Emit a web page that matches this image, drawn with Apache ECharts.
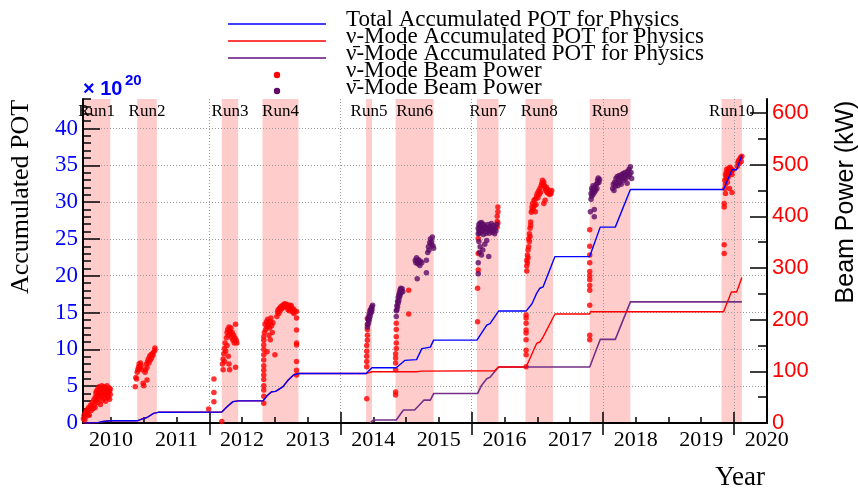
<!DOCTYPE html>
<html>
<head>
<meta charset="utf-8">
<title>Accumulated POT</title>
<script src="https://cdn.jsdelivr.net/npm/echarts@6/dist/echarts.min.js"></script>
<style>
html,body{margin:0;padding:0;background:#fff;}
#myChart{width:858px;height:491px;}
</style>
</head>
<body>
<div id="myChart"></div>
<script>
var serif = '"Liberation Serif","Times New Roman",serif';
var sans = '"Liberation Sans",Arial,sans-serif';

// run periods (year fraction)
var runNames = ['Run1','Run2','Run3','Run4','Run5','Run6','Run7','Run8','Run9','Run10'];
var runStart = [2010.074, 2010.90, 2012.19, 2012.81, 2014.39, 2014.84, 2016.08, 2016.82, 2017.80, 2019.81];
var runEnd   = [2010.49, 2011.20, 2012.44, 2013.36, 2014.48, 2015.42, 2016.41, 2017.24, 2018.42, 2020.12];

// tick labels
var yearTicks = [2010, 2011, 2012, 2013, 2014, 2015, 2016, 2017, 2018, 2019, 2020];
var potTicks = [0, 5, 10, 15, 20, 25, 30, 35, 40];
var powerTicks = [0, 100, 200, 300, 400, 500, 600];
var evenYears = [2012, 2014, 2016, 2018, 2020];

var legendNames = [
  'Total Accumulated POT for Physics',
  'ν-Mode Accumulated POT for Physics',
  'ν\u0304-Mode Accumulated POT for Physics',
  'ν-Mode Beam Power',
  'ν\u0304-Mode Beam Power'
];

// accumulated POT (x10^20)
var totalPot = [[2010.10,0],[2010.30,0.05],[2010.38,0.2],[2010.49,0.3],[2010.90,0.3],[2010.98,0.55],[2011.05,0.75],[2011.15,1.3],[2011.22,1.45],
  [2012.19,1.5],[2012.27,2.2],[2012.36,2.9],[2012.44,3.0],[2012.82,3.0],[2012.88,3.7],[2012.95,4.25],[2013.01,4.3],[2013.12,4.9],[2013.20,5.8],[2013.28,6.5],[2013.36,6.72],
  [2014.39,6.72],[2014.48,7.5],[2014.85,7.5],[2014.98,8.5],[2015.16,8.6],[2015.24,10.1],[2015.37,10.3],[2015.42,11.25],
  [2016.08,11.25],[2016.15,12.2],[2016.23,13.3],[2016.28,13.5],[2016.41,15.2],[2016.83,15.2],[2016.92,16.2],[2016.99,17.6],[2017.04,18.3],[2017.09,18.5],[2017.27,22.6],
  [2017.80,22.6],[2017.96,26.6],[2018.19,26.6],[2018.42,31.7],[2019.84,31.7],[2019.97,34.4],[2020.04,34.4],[2020.12,36.4]];
var nuPot = [[2010.10,0],[2010.30,0.05],[2010.38,0.2],[2010.49,0.3],[2010.90,0.3],[2010.98,0.55],[2011.05,0.75],[2011.15,1.3],[2011.22,1.45],
  [2012.19,1.5],[2012.27,2.2],[2012.36,2.9],[2012.44,3.0],[2012.82,3.0],[2012.88,3.7],[2012.95,4.25],[2013.01,4.3],[2013.12,4.9],[2013.20,5.8],[2013.28,6.5],[2013.36,6.72],
  [2014.39,6.72],[2014.48,6.96],[2015.16,6.96],[2015.24,7.05],[2016.35,7.1],[2016.41,7.6],[2016.83,7.6],[2016.99,10.8],[2017.04,11.0],[2017.09,11.7],[2017.27,14.8],
  [2017.80,14.8],[2017.81,15.1],[2019.84,15.1],[2019.96,17.8],[2020.04,17.8],[2020.12,19.75]];
var nubarPot = [[2014.45,0],[2014.50,0.4],[2014.85,0.4],[2014.96,1.76],[2015.13,1.76],[2015.27,3.1],[2015.37,3.1],[2015.42,4.0],
  [2016.09,4.0],[2016.15,5.1],[2016.23,6.0],[2016.28,6.2],[2016.41,7.6],[2017.80,7.6],[2017.96,11.35],[2018.19,11.35],[2018.42,16.45],[2020.12,16.45]];

// beam power (kW)
var nuBeamPower = [
  // Run1
  [2010.08,8],[2010.09,15],[2010.10,5],[2010.11,20],[2010.12,12],[2010.13,25],[2010.14,18],[2010.15,22],[2010.16,30],[2010.17,15],[2010.18,28],[2010.19,35],[2010.20,24],[2010.21,33],
  [2010.22,40],[2010.23,28],[2010.24,45],[2010.25,36],[2010.26,50],[2010.26,30],[2010.27,58],[2010.28,44],[2010.28,62],[2010.29,52],[2010.30,66],[2010.30,40],[2010.31,55],[2010.32,70],
  [2010.32,48],[2010.33,60],[2010.34,36],[2010.34,65],[2010.35,52],[2010.36,72],[2010.36,58],[2010.37,44],[2010.38,66],[2010.38,54],[2010.39,70],[2010.40,48],[2010.40,62],[2010.41,56],
  [2010.42,68],[2010.42,42],[2010.43,60],[2010.44,52],[2010.44,72],[2010.45,64],[2010.46,50],[2010.46,58],[2010.47,68],[2010.48,46],[2010.48,62],[2010.49,55],[2010.49,66],
  // Run2
  [2010.87,70],[2010.88,88],[2010.89,85],[2010.90,98],[2010.91,103],[2010.92,108],[2010.93,114],[2010.94,106],[2010.95,116],[2010.96,111],[2010.97,103],[2010.99,77],[2011.00,72],
  [2011.02,98],[2011.03,103],[2011.04,114],[2011.05,108],[2011.05,83],[2011.06,119],[2011.07,124],[2011.08,116],[2011.09,129],[2011.10,122],[2011.11,132],[2011.12,126],[2011.13,134],
  [2011.14,131],[2011.15,137],[2011.17,141],[2011.17,145],
  // Run3
  [2011.99,27],[2012.07,85],[2012.07,59],[2012.07,41],[2012.19,3],
  [2012.20,114],[2012.21,124],[2012.21,103],[2012.22,134],[2012.23,144],[2012.23,119],[2012.24,155],[2012.25,139],[2012.26,165],[2012.27,175],[2012.27,150],[2012.28,181],[2012.29,170],
  [2012.29,129],[2012.30,186],[2012.30,114],[2012.31,178],[2012.31,103],[2012.32,173],[2012.33,184],[2012.34,165],[2012.35,175],[2012.36,160],[2012.37,170],[2012.38,155],[2012.39,165],
  [2012.40,191],[2012.41,160],[2012.42,155],[2012.40,108],
  // Run4
  [2012.83,38],[2012.83,52],[2012.83,64],[2012.83,72],[2012.83,84],[2012.83,93],[2012.83,102],[2012.83,111],[2012.83,122],[2012.83,132],[2012.83,142],[2012.83,151],[2012.83,160],[2012.83,167],
  [2012.84,175],[2012.85,191],[2012.86,181],[2012.87,196],[2012.88,186],[2012.89,201],[2012.90,191],[2012.91,170],[2012.92,184],[2012.93,196],[2012.94,203],[2012.95,188],[2012.96,175],
  [2012.97,194],[2012.88,138],[2012.93,161],[2013.00,132],
  [2013.03,206],[2013.04,215],[2013.05,219],[2013.06,212],[2013.07,222],[2013.08,217],[2013.09,225],[2013.10,221],[2013.11,227],[2013.12,223],[2013.13,229],[2013.14,225],[2013.15,231],
  [2013.16,227],[2013.17,230],[2013.18,224],[2013.19,229],[2013.20,219],[2013.21,225],[2013.22,217],[2013.23,228],[2013.24,222],[2013.25,227],[2013.26,219],[2013.27,215],[2013.28,221],
  [2013.29,212],[2013.30,217],
  [2013.33,216],[2013.33,203],[2013.33,180],[2013.33,155],[2013.33,151],[2013.33,119],[2013.33,102],[2013.33,93],
  // Run5
  [2014.40,47],[2014.40,109],[2014.40,119],[2014.40,129],[2014.40,139],[2014.40,150],[2014.41,160],[2014.41,170],[2014.41,181],[2014.41,191],[2014.41,202],
  // Run6
  [2014.84,54],[2014.84,60],[2014.84,103],[2014.84,116],[2014.84,126],[2014.84,134],[2014.85,144],[2014.85,155],[2014.85,167],[2014.85,181],[2014.85,193],[2015.04,257],[2015.04,211],
  // Run7
  [2016.09,196],[2016.09,261],[2016.10,296],[2016.10,328],[2016.10,357],[2016.39,380],[2016.39,390],[2016.39,400],[2016.40,409],[2016.40,418],[2016.40,387],
  // Run8
  [2016.83,109],[2016.83,132],[2016.83,141],[2016.83,161],[2016.83,174],[2016.83,180],[2016.83,193],[2016.83,203],[2016.83,209],
  [2016.84,304],[2016.84,315],[2016.85,325],[2016.85,310],[2016.86,335],[2016.86,320],[2016.87,341],[2016.84,294],[2016.87,356],[2016.88,366],[2016.88,351],[2016.89,377],[2016.89,361],
  [2016.90,382],[2016.90,389],[2016.91,408],[2016.92,418],[2016.92,411],[2016.93,425],[2016.94,415],[2016.95,431],[2016.96,421],[2016.97,433],[2016.97,409],[2016.98,423],[2016.99,439],
  [2017.00,444],[2017.01,436],[2017.02,449],[2017.03,442],[2017.04,454],[2017.05,446],[2017.06,459],[2017.07,464],[2017.08,470],[2017.09,462],[2017.10,466],[2017.11,459],[2017.12,454],
  [2017.13,450],[2017.14,456],[2017.15,446],[2017.16,452],[2017.17,444],[2017.18,449],[2017.19,442],[2017.20,447],[2017.21,444],[2017.22,450],[2017.10,425],[2017.12,431],
  // Run9
  [2017.80,161],[2017.80,170],[2017.80,228],[2017.80,257],[2017.80,266],[2017.80,277],[2017.80,285],[2017.80,293],[2017.80,310],[2017.80,325],[2017.80,342],[2017.80,374],
  // Run10
  [2019.85,328],[2019.85,345],[2019.85,418],[2019.85,425],[2019.86,454],[2019.86,470],[2019.87,462],[2019.87,480],[2019.88,473],[2019.88,485],[2019.89,477],[2019.89,491],[2019.90,466],
  [2019.90,483],[2019.91,489],[2019.91,475],[2019.92,493],[2019.92,481],[2019.93,487],[2019.94,495],[2019.95,485],[2019.96,491],[2019.97,446],[2019.97,481],[2019.98,489],[2020.05,497],
  [2020.06,504],[2020.07,508],[2020.08,502],[2020.09,511],[2020.10,514],[2020.11,506],[2020.12,516],[2019.93,454],[2019.87,444]
];
var nubarBeamPower = [
  // Run5
  [2014.41,186],[2014.42,201],[2014.42,191],[2014.43,206],[2014.43,196],[2014.44,212],[2014.44,201],[2014.45,217],[2014.45,206],[2014.46,219],[2014.46,212],[2014.47,222],[2014.47,215],
  [2014.48,225],[2014.48,219],[2014.49,228],
  // Run6
  [2014.85,206],[2014.85,217],[2014.86,227],[2014.86,219],[2014.87,235],[2014.87,225],[2014.88,243],[2014.88,232],[2014.89,248],[2014.89,237],[2014.90,253],[2014.90,244],[2014.91,258],
  [2014.91,248],[2014.92,261],[2014.92,252],[2014.93,256],[2014.94,260],[2014.95,254],
  [2015.14,315],[2015.15,310],[2015.16,320],[2015.17,314],[2015.18,308],[2015.19,316],[2015.20,310],[2015.21,305],[2015.22,313],[2015.17,279],[2015.24,310],
  [2015.31,291],[2015.31,315],[2015.33,330],[2015.34,341],[2015.35,335],[2015.36,349],[2015.37,356],[2015.38,346],[2015.39,351],[2015.40,360],[2015.41,343],[2015.42,338],
  // Run7
  [2016.10,377],[2016.10,366],[2016.11,384],[2016.11,372],[2016.12,380],[2016.12,367],[2016.13,387],[2016.13,374],[2016.14,382],[2016.14,369],[2016.15,378],[2016.15,388],[2016.16,372],
  [2016.17,382],[2016.18,376],[2016.18,365],[2016.19,384],[2016.20,374],[2016.21,380],[2016.22,367],[2016.23,378],[2016.24,372],[2016.25,384],[2016.26,376],[2016.27,367],[2016.28,380],
  [2016.29,372],[2016.30,386],[2016.31,376],[2016.32,369],[2016.33,382],[2016.34,374],[2016.35,366],[2016.36,378],[2016.37,372],[2016.38,384],
  [2016.11,351],[2016.12,330],[2016.13,341],[2016.15,325],[2016.17,335],[2016.20,346],[2016.23,353],[2016.26,322],[2016.10,310],[2016.10,289],
  // Run9
  [2017.81,409],[2017.82,433],[2017.82,444],[2017.83,454],[2017.83,439],[2017.84,449],[2017.85,442],[2017.85,459],[2017.86,452],[2017.87,446],[2017.87,413],[2017.87,399],[2017.88,456],
  [2017.89,450],[2017.90,462],[2017.91,454],[2017.92,464],[2017.92,470],[2017.93,474],[2017.94,466],[2017.95,471],
  [2018.15,454],[2018.16,462],[2018.17,450],[2018.18,466],[2018.19,458],[2018.20,473],[2018.21,464],[2018.22,477],[2018.23,459],[2018.24,471],[2018.25,479],[2018.26,466],[2018.27,475],
  [2018.28,462],[2018.29,481],[2018.30,473],[2018.31,483],[2018.32,470],[2018.33,477],[2018.34,485],[2018.35,473],[2018.36,481],[2018.37,464],[2018.38,487],[2018.39,477],[2018.40,491],
  [2018.41,481],[2018.42,496],[2018.43,485],[2018.44,473]
];

var halfYearTicks = [];
for (var t = 2010.5; t <= 2020.5; t += 0.5) { halfYearTicks.push(t); }
var potMinor = [];
for (var i = 0; i <= 44; i++) { potMinor.push(i); }
var powerMinor = [];
for (var k = 0; k <= 600; k += 50) { powerMinor.push(k); }

var runAreas = runNames.map(function (n, i) {
  return [{ name: n, xAxis: runStart[i] }, { xAxis: runEnd[i] }];
});

var tickStyle = { color: '#000', width: 1.5 };
var gridLine = { show: true, lineStyle: { color: '#9a9a9a', width: 1, type: [1, 2] } };

var myChart = echarts.init(document.getElementById('myChart'));
var option = {
  animation: false,
  backgroundColor: '#fff',
  grid: { left: 83, right: 91, top: 99, bottom: 68 },
  xAxis: [
    {
      type: 'value', min: 2010.074, max: 2020.503, position: 'bottom', z: 5,
      axisLine: { show: true, lineStyle: { color: '#000', width: 2 } },
      axisTick: { show: true, inside: true, length: 6, lineStyle: tickStyle, customValues: halfYearTicks },
      axisLabel: {
        customValues: yearTicks.map(function (y) { return y + 0.5; }),
        formatter: function (v) { return String(Math.floor(v)); },
        color: '#000', fontFamily: serif, fontSize: 22, margin: 6
      },
      splitLine: { show: false }
    },
    {
      type: 'value', min: 2010.074, max: 2020.503, position: 'bottom', z: 5,
      axisLine: { show: false },
      axisTick: { show: true, inside: true, length: 11, lineStyle: tickStyle, customValues: evenYears },
      axisLabel: { show: false },
      splitLine: gridLine
    },
    {
      type: 'value', min: 2010.074, max: 2020.503, position: 'bottom', z: 5,
      axisLine: { show: false },
      axisTick: { show: true, inside: false, length: 12, lineStyle: tickStyle, customValues: evenYears },
      axisLabel: { show: false },
      splitLine: { show: false }
    },
    {
      type: 'value', min: 2010.074, max: 2020.503, position: 'top', z: 5,
      axisLine: { show: true, lineStyle: { color: '#000', width: 2 } },
      axisTick: { show: false }, axisLabel: { show: false }, splitLine: { show: false }
    }
  ],
  yAxis: [
    {
      type: 'value', min: 0, max: 44, position: 'left', z: 5,
      axisLine: { show: true, lineStyle: { color: '#000', width: 2 } },
      axisTick: { show: true, inside: true, length: 8, lineStyle: tickStyle, customValues: potMinor },
      axisLabel: { customValues: potTicks, color: '#0000ff', fontFamily: serif, fontSize: 23, margin: 5 },
      splitLine: { show: false }
    },
    {
      type: 'value', min: 0, max: 44, position: 'left', z: 5,
      axisLine: { show: false },
      axisTick: { show: true, inside: true, length: 17, lineStyle: tickStyle, customValues: potTicks },
      axisLabel: { show: false },
      splitLine: gridLine
    },
    {
      type: 'value', min: 0, max: 627, position: 'right', z: 5,
      axisLine: { show: true, lineStyle: { color: '#000', width: 2 } },
      axisTick: { show: true, inside: true, length: 9, lineStyle: tickStyle, customValues: powerMinor },
      axisLabel: { customValues: powerTicks, color: '#ff0000', fontFamily: sans, fontSize: 22, margin: 5 },
      splitLine: { show: false }
    },
    {
      type: 'value', min: 0, max: 627, position: 'right', z: 5,
      axisLine: { show: false },
      axisTick: { show: true, inside: true, length: 17, lineStyle: tickStyle, customValues: powerTicks },
      axisLabel: { show: false },
      splitLine: { show: false }
    }
  ],
  series: [
    {
      name: 'runs', type: 'line', data: [], z: 1, silent: true,
      markArea: {
        silent: true,
        itemStyle: { color: '#ffcccc' },
        label: { show: true, position: 'insideTop', distance: 4, color: '#000', fontFamily: serif, fontSize: 17 },
        data: runAreas
      }
    },
    {
      name: legendNames[3], type: 'scatter', yAxisIndex: 2, z: 6,
      symbolSize: 5.5, itemStyle: { color: '#ff0000' }, data: nuBeamPower
    },
    {
      name: legendNames[4], type: 'scatter', yAxisIndex: 2, z: 6,
      symbolSize: 5.5, itemStyle: { color: '#5d0b66' }, data: nubarBeamPower
    },
    {
      name: legendNames[2], type: 'line', yAxisIndex: 0, z: 7, symbol: 'none',
      lineStyle: { color: '#752f86', width: 1.6 }, data: nubarPot
    },
    {
      name: legendNames[1], type: 'line', yAxisIndex: 0, z: 7, symbol: 'none',
      lineStyle: { color: '#ff0000', width: 1.4 }, data: nuPot
    },
    {
      name: legendNames[0], type: 'line', yAxisIndex: 0, z: 8, symbol: 'none',
      lineStyle: { color: '#0000ff', width: 1.4 }, data: totalPot
    }
  ],
  graphic: [
    // legend
    { type: 'line', z: 10, shape: { x1: 228, y1: 24, x2: 326, y2: 24 }, style: { stroke: '#0000ff', lineWidth: 1.5 } },
    { type: 'line', z: 10, shape: { x1: 228, y1: 41, x2: 326, y2: 41 }, style: { stroke: '#ff0000', lineWidth: 1.5 } },
    { type: 'line', z: 10, shape: { x1: 228, y1: 58, x2: 326, y2: 58 }, style: { stroke: '#8a4aa0', lineWidth: 1.8 } },
    { type: 'circle', z: 10, shape: { cx: 277, cy: 75, r: 3.2 }, style: { fill: '#ff0000' } },
    { type: 'circle', z: 10, shape: { cx: 277, cy: 91, r: 3.2 }, style: { fill: '#5d0b66' } },
    { type: 'text', z: 10, x: 346, y: 20, style: { text: legendNames[0], font: '23px ' + serif, fill: '#000', verticalAlign: 'middle' } },
    { type: 'text', z: 10, x: 346, y: 37, style: { text: legendNames[1], font: '23px ' + serif, fill: '#000', verticalAlign: 'middle' } },
    { type: 'text', z: 10, x: 346, y: 54, style: { text: legendNames[2], font: '23px ' + serif, fill: '#000', verticalAlign: 'middle' } },
    { type: 'text', z: 10, x: 346, y: 71, style: { text: legendNames[3], font: '23px ' + serif, fill: '#000', verticalAlign: 'middle' } },
    { type: 'text', z: 10, x: 346, y: 88, style: { text: legendNames[4], font: '23px ' + serif, fill: '#000', verticalAlign: 'middle' } },
    // exponent
    { type: 'text', z: 10, x: 83, y: 89, style: { text: '× 10', font: 'bold 20px ' + sans, fill: '#0000ff', verticalAlign: 'middle' } },
    { type: 'text', z: 10, x: 125, y: 81, style: { text: '20', font: 'bold 15px ' + sans, fill: '#0000ff', verticalAlign: 'middle' } },
    // axis titles
    { type: 'text', z: 10, x: 21, y: 197, rotation: Math.PI / 2, style: { text: 'Accumulated POT', font: '26px ' + serif, fill: '#000', align: 'center', verticalAlign: 'middle' } },
    { type: 'text', z: 10, x: 846, y: 202, rotation: Math.PI / 2, style: { text: 'Beam Power (kW)', font: '25px ' + sans, fill: '#000', align: 'center', verticalAlign: 'middle' } },
    { type: 'text', z: 10, x: 765, y: 478, style: { text: 'Year', font: '27px ' + serif, fill: '#000', align: 'right', verticalAlign: 'middle' } }
  ]
};
myChart.setOption(option);
</script>
</body>
</html>
